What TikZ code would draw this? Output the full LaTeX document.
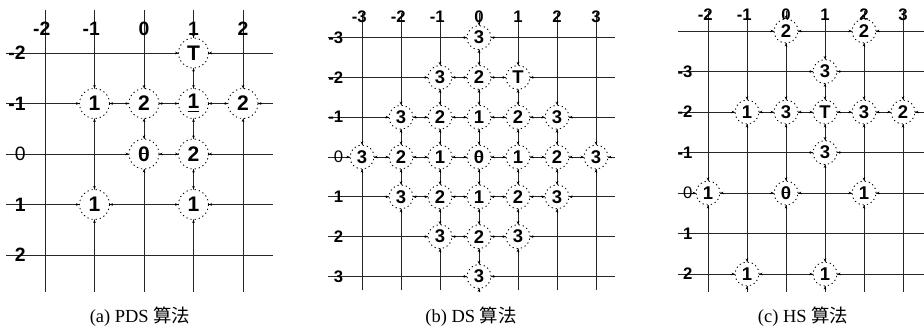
\documentclass[tikz,border=0pt]{standalone}
\usepackage{fontspec}
\setmainfont{Liberation Serif}
\setsansfont{Liberation Sans}
\newfontfamily\cjk{Noto Sans CJK SC}
\usetikzlibrary{arrows.meta,calc}
\tikzset{
  gridline/.style={line width=0.45pt, draw=black!85},
  gpt/.style={
    circle, draw=black, fill=white, line width=0.5pt,
    dash pattern=on 0.7pt off 1.7pt, inner sep=0pt,
    font=\sffamily\bfseries
  },
  tip/.style={-{Stealth[length=1.7pt,width=1.6pt]}, line width=0.4pt, solid},
  axlab/.style={font=\sffamily\bfseries, inner sep=0pt},
  caption/.style={font=\fontsize{10.5}{12}\selectfont, inner sep=0pt}
}
% axis numbers: minus sign hangs left of the digit
\newcommand{\axnum}[1]{\ifnum#1<0 \llap{-}\number\numexpr0-(#1)\relax\else#1\fi}
\newcommand{\rownum}[1]{\ifnum#1=0 {\mdseries 0}\else\axnum{#1}\fi}
\newcommand{\zeroctr}{\ooalign{0\cr\hidewidth\rule[0.33em]{0.34em}{0.07em}\hidewidth\cr}}
% search point: circle on the grid, small tips where the lines come in
\newcommand{\gridpt}[4]{
  \node[gpt] (#1) at (#2,#3) {#4};
  \foreach \an in {north,south,east,west}
    \draw[tip] ($(#1.\an)!-2pt!(#1.center)$) -- (#1.\an);
}

\begin{document}
\begin{tikzpicture}
\useasboundingbox (0,0) rectangle (18.48,-6.58);

% (a) PDS
\begin{scope}[shift={(2.88,-3.08)}, x=0.99cm, y=-1.01cm,
  gpt/.append style={minimum size=0.6cm, font=\sffamily\bfseries\fontsize{12}{13}\selectfont},
  axlab/.append style={font=\sffamily\bfseries\fontsize{11}{12}\selectfont}]
\foreach \c in {-2,...,2}{
  \draw[gridline] (\c,-2.85) -- (\c,2.73);
  \node[axlab] (acol\c) at (\c,-2.48) {\axnum{\c}};
}
\foreach \r in {-2,...,2}{
  \draw[gridline] (-2.79,\r) -- (2.61,\r);
  \node[axlab] (arow\r) at (-2.5,\r) {\rownum{\r}};
}
\gridpt{at}{1}{-2}{T}
\gridpt{ap1}{-1}{-1}{1}
\gridpt{ap2}{0}{-1}{2}
\gridpt{ap3}{1}{-1}{\underline{1}}
\gridpt{ap4}{2}{-1}{2}
\gridpt{ap0}{0}{0}{\zeroctr}
\gridpt{ap5}{1}{0}{2}
\gridpt{ap6}{-1}{1}{1}
\gridpt{ap7}{1}{1}{1}
\end{scope}
\node[caption] (capa) at (2.8,-6.34) {(a) PDS {\cjk 算法}};

% (b) DS
\begin{scope}[shift={(9.58,-3.14)}, x=0.78cm, y=-0.796cm,
  gpt/.append style={minimum size=0.48cm, font=\sffamily\bfseries\fontsize{10.5}{11}\selectfont},
  axlab/.append style={font=\sffamily\bfseries\fontsize{9.5}{10}\selectfont}]
\foreach \c in {-3,...,3}{
  \draw[gridline] (\c,-3.62) -- (\c,3.34);
  \node[axlab] (bcol\c) at (\c,-3.52) {\axnum{\c}};
}
\foreach \r in {-3,...,3}{
  \draw[gridline] (-3.87,\r) -- (3.49,\r);
  \node[axlab] (brow\r) at (-3.6,\r) {\rownum{\r}};
}
\foreach \x in {-3,...,3}{
  \foreach \y in {-3,...,3}{
    \pgfmathtruncatemacro{\d}{abs(\x)+abs(\y)}
    \def\ptlabel{\d}
    \ifnum\d=0 \def\ptlabel{\zeroctr}\fi
    \ifnum\x=1 \ifnum\y=-2 \def\ptlabel{T}\fi\fi
    \ifnum\d<4 \gridpt{b\x r\y}{\x}{\y}{\ptlabel}\fi
  }
}
\end{scope}
\node[caption] (capb) at (9.42,-6.34) {(b) DS {\cjk 算法}};

% (c) HS
\begin{scope}[shift={(15.72,-3.86)}, x=0.78cm, y=-0.81cm,
  gpt/.append style={minimum size=0.48cm, font=\sffamily\bfseries\fontsize{10.5}{11}\selectfont},
  axlab/.append style={font=\sffamily\bfseries\fontsize{9.5}{10}\selectfont}]
\foreach \c in {-2,...,3}{
  \draw[gridline] (\c,-4.5) -- (\c,2.44);
  \node[axlab] (ccol\c) at (\c,-4.4) {\axnum{\c}};
}
\draw[gridline] (-2.77,-4) -- (3.7,-4);
\foreach \r in {-3,...,2}{
  \draw[gridline] (-2.77,\r) -- (3.7,\r);
  \node[axlab] (crow\r) at (-2.52,\r) {\rownum{\r}};
}
\gridpt{cq1}{0}{-4}{2}
\gridpt{cq2}{2}{-4}{2}
\gridpt{cq3}{1}{-3}{3}
\gridpt{cq4}{-1}{-2}{1}
\gridpt{cq5}{0}{-2}{3}
\gridpt{ct}{1}{-2}{T}
\gridpt{cq6}{2}{-2}{3}
\gridpt{cq7}{3}{-2}{2}
\gridpt{cq8}{1}{-1}{3}
\gridpt{cq9}{-2}{0}{1}
\gridpt{cq0}{0}{0}{\zeroctr}
\gridpt{cq10}{2}{0}{1}
\gridpt{cq11}{-1}{2}{1}
\gridpt{cq12}{1}{2}{1}
\end{scope}
\node[caption] (capc) at (16.06,-6.34) {(c) HS {\cjk 算法}};
\end{tikzpicture}
\end{document}
